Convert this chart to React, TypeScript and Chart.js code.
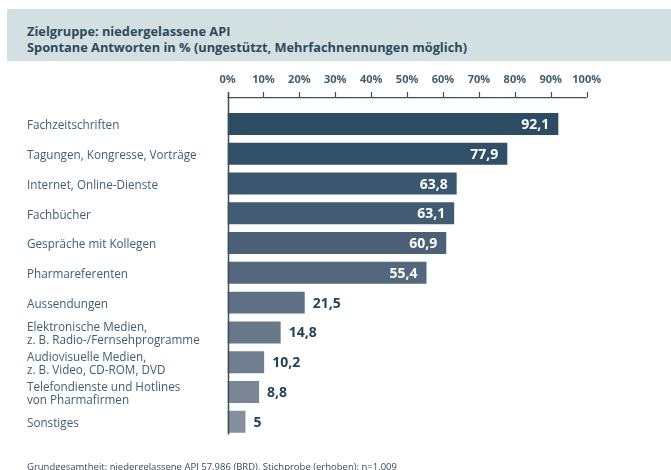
import React, { useEffect, useRef } from "react";
import { Chart, registerables } from "chart.js";

Chart.register(...registerables);

const categories: (string | string[])[] = [
  "Fachzeitschriften",
  "Tagungen, Kongresse, Vorträge",
  "Internet, Online-Dienste",
  "Fachbücher",
  "Gespräche mit Kollegen",
  "Pharmareferenten",
  "Aussendungen",
  ["Elektronische Medien,", "z. B. Radio-/Fernsehprogramme"],
  ["Audiovisuelle Medien,", "z. B. Video, CD-ROM, DVD"],
  ["Telefondienste und Hotlines", "von Pharmafirmen"],
  "Sonstiges",
];

const values: number[] = [92.1, 77.9, 63.8, 63.1, 60.9, 55.4, 21.5, 14.8, 10.2, 8.8, 5];

const barColors: string[] = [
  "#2b4c63",
  "#2f5068",
  "#3a5770",
  "#425c73",
  "#4a6178",
  "#53687c",
  "#5f7184",
  "#677889",
  "#6f7e90",
  "#7a8696",
  "#858f9d",
];

const tickValues: number[] = [0, 10, 20, 30, 40, 50, 60, 70, 80, 90, 100];

const titleLines: string[] = [
  "Zielgruppe: niedergelassene API",
  "Spontane Antworten in % (ungestützt, Mehrfachnennungen möglich)",
];
const footnote = "Grundgesamtheit: niedergelassene API 57.986 (BRD), Stichprobe (erhoben): n=1.009";

const FONT = "'Open Sans', 'Noto Sans', sans-serif";
const AXIS_COLOR = "#3d4f5c";
const LABEL_COLOR = "#3f5e74";
const VALUE_COLOR = "#24445a";

const axisPlugin = {
  id: "customAxis",
  afterDatasetsDraw(chart: any) {
    const { ctx, chartArea } = chart;
    const x = chart.scales.x;
    const lineY = chartArea.top - 12;
    const x0 = x.getPixelForValue(0);
    const x100 = x.getPixelForValue(100);
    ctx.save();
    ctx.strokeStyle = AXIS_COLOR;
    ctx.lineWidth = 1.2;
    ctx.beginPath();
    ctx.moveTo(x0, lineY + 0.5);
    ctx.lineTo(x100, lineY + 0.5);
    tickValues.forEach((v) => {
      const px = Math.round(x.getPixelForValue(v)) + 0.5;
      ctx.moveTo(px, lineY - 5);
      ctx.lineTo(px, lineY + 0.5);
    });
    ctx.stroke();
    ctx.lineWidth = 1.5;
    ctx.beginPath();
    ctx.moveTo(Math.round(x0) + 0.5, lineY - 5);
    ctx.lineTo(Math.round(x0) + 0.5, chartArea.bottom - 2);
    ctx.stroke();
    ctx.restore();
  },
};

const valuePlugin = {
  id: "valueLabels",
  afterDatasetsDraw(chart: any) {
    const { ctx } = chart;
    const meta = chart.getDatasetMeta(0);
    ctx.save();
    ctx.font = `bold 14px ${FONT}`;
    ctx.textBaseline = "middle";
    meta.data.forEach((bar: any, i: number) => {
      const v = values[i];
      const text = String(v).replace(".", ",");
      if (v > 40) {
        ctx.fillStyle = "#ffffff";
        ctx.textAlign = "right";
        ctx.fillText(text, bar.x - 9, bar.y + 1);
      } else {
        ctx.fillStyle = VALUE_COLOR;
        ctx.textAlign = "left";
        ctx.fillText(text, bar.x + 8, bar.y + 1);
      }
    });
    ctx.restore();
  },
};

export default function App() {
  const canvasRef = useRef<HTMLCanvasElement | null>(null);

  useEffect(() => {
    document.body.style.margin = "0";
    const canvas = canvasRef.current;
    if (!canvas) return;
    const chart = new Chart(canvas, {
      type: "bar",
      data: {
        labels: categories,
        datasets: [
          {
            data: values,
            backgroundColor: barColors,
            borderWidth: 0,
            barPercentage: 22 / 29.8,
            categoryPercentage: 1,
          },
        ],
      },
      options: {
        indexAxis: "y",
        animation: false,
        responsive: false,
        devicePixelRatio: 1,
        layout: { padding: { left: 27, right: 84.3, top: 60, bottom: 33.4 } },
        plugins: {
          legend: { display: false },
          tooltip: { enabled: false },
          title: { display: false },
        },
        scales: {
          x: {
            type: "linear",
            position: "top",
            min: 0,
            max: 100,
            grid: { display: false },
            border: { display: false },
            ticks: {
              stepSize: 10,
              padding: 15,
              autoSkip: false,
              maxRotation: 0,
              minRotation: 0,
              color: LABEL_COLOR,
              font: { family: FONT, size: 11, weight: "bold" },
              callback: (v: any) => `${v}%`,
            },
            afterFit: (scale: any) => {
              scale.height = 49.1;
            },
          },
          y: {
            type: "category",
            grid: { display: false },
            border: { display: false },
            ticks: {
              crossAlign: "far",
              labelOffset: 2,
              color: LABEL_COLOR,
              font: { family: FONT, size: 11.7, weight: 500, lineHeight: 1.13 },
            },
            afterFit: (scale: any) => {
              scale.width = 200.5;
            },
          },
        },
      },
      plugins: [axisPlugin, valuePlugin],
    } as any);
    return () => chart.destroy();
  }, []);

  return (
    <div style={{ position: "relative", width: 671, height: 470, overflow: "hidden", background: "#ffffff" }}>
      <div
        style={{
          position: "absolute",
          left: 7,
          top: 9,
          width: 664,
          height: 52,
          background: "#d3e0e2",
        }}
      />
      <div
        style={{
          position: "absolute",
          left: 27,
          top: 24,
          fontFamily: FONT,
          fontWeight: 700,
          fontSize: 12.8,
          lineHeight: "15.5px",
          color: "#2d4a5c",
          whiteSpace: "nowrap",
        }}
      >
        {titleLines.map((t, i) => (
          <div key={i}>{t}</div>
        ))}
      </div>
      <canvas
        ref={canvasRef}
        width={671}
        height={470}
        style={{ position: "absolute", left: 0, top: 0, width: 671, height: 470 }}
      />
      <div
        style={{
          position: "absolute",
          left: 27,
          top: 461,
          fontFamily: FONT,
          fontSize: 9.5,
          lineHeight: "11px",
          color: "#3a4a55",
          whiteSpace: "nowrap",
        }}
      >
        {footnote}
      </div>
    </div>
  );
}
